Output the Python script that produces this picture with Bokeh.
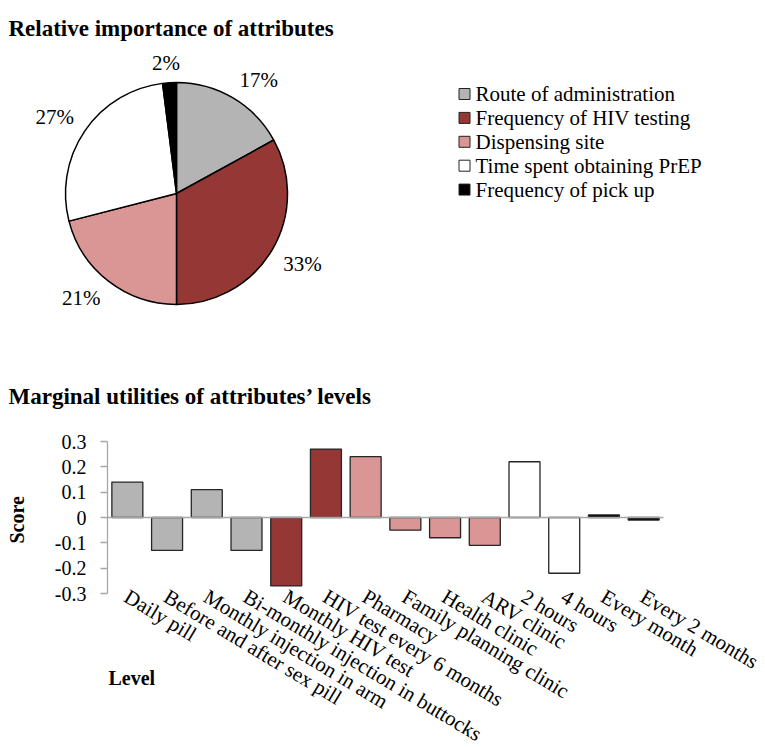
import math
from bokeh.plotting import figure
from bokeh.models import Range1d, FixedTicker, LinearAxis, Title
from bokeh.embed import file_html
from bokeh.resources import INLINE
from bokeh.core.properties import value

# ---------------- data ----------------
attributes = ["Route of administration", "Frequency of HIV testing", "Dispensing site",
              "Time spent obtaining PrEP", "Frequency of pick up"]
importance = [17, 33, 21, 27, 2]
importance_labels = ["17%", "33%", "21%", "27%", "2%"]
attr_colors = ["#B4B4B4", "#953735", "#D99694", "#FFFFFF", "#000000"]

levels = ["Daily pill", "Before and after sex pill", "Monthly injection in arm",
          "Bi-monthly injection in buttocks", "Monthly HIV test", "HIV test every 6 months",
          "Pharmacy", "Family planning clinic", "Health clinic", "ARV clinic",
          "2 hours", "4 hours", "Every month", "Every 2 months"]
level_attribute = [0, 0, 0, 0, 1, 1, 2, 2, 2, 2, 3, 3, 4, 4]
scores = [0.14, -0.13, 0.11, -0.13, -0.27, 0.27, 0.24, -0.05, -0.08, -0.11, 0.22, -0.22, 0.01, -0.01]
y_ticks = [-0.3, -0.2, -0.1, 0, 0.1, 0.2, 0.3]
y_tick_labels = ["-0.3", "-0.2", "-0.1", "0", "0.1", "0.2", "0.3"]

title_top = "Relative importance of attributes"
title_bottom = "Marginal utilities of attributes\u2019 levels"
x_title = "Level"
y_title = "Score"

SERIF = value("Liberation Serif")

# ---------------- top figure: pie + legend ----------------
W = 765
H1 = 410
p1 = figure(width=W, height=H1, x_range=Range1d(0, W), y_range=Range1d(0, H1),
            x_axis_type=None, y_axis_type=None, output_backend="svg",
            toolbar_location=None, min_border=0, outline_line_color=None)
p1.grid.visible = False

cx, cy, R = 176, H1 - 193, 111
total = float(sum(importance))
starts, ends, lab_x, lab_y = [], [], [], []
cum = 0.0
fs = 21.0
clamp = lambda t: max(-1.0, min(1.0, t))
for v, lab in zip(importance, importance_labels):
    starts.append(math.pi / 2 - 2 * math.pi * cum / total)
    mid = (cum + v / 2.0) / total
    cum += v
    ends.append(math.pi / 2 - 2 * math.pi * cum / total)
    th = 2 * math.pi * mid
    ux, uy = math.sin(th), math.cos(th)
    hw = 0.5 * fs * (0.5 * (len(lab) - 1) + 0.833)
    hh = 7.0
    k = R + 13
    lab_x.append(cx + k * ux + hw * clamp(3 * ux))
    lab_y.append(cy + k * uy + hh * clamp(3 * uy))

p1.wedge(x=cx, y=cy, radius=R, start_angle=starts, end_angle=ends, direction="clock",
         fill_color=attr_colors, line_color="black", line_width=1.5)
p1.text(x=lab_x, y=lab_y, text=importance_labels, text_font=SERIF, text_font_size="21px",
        text_align="center", text_baseline="middle", text_color="black")

# legend
leg_x, leg_top, leg_step = 464, H1 - 93.5, 23.9
leg_y = [leg_top - i * leg_step for i in range(len(attributes))]
p1.rect(x=[leg_x] * len(attributes), y=leg_y, width=11, height=11,
        fill_color=attr_colors, line_color="#222222", line_width=1)
p1.text(x=[leg_x + 11] * len(attributes), y=leg_y, text=attributes, text_font=SERIF,
        text_font_size="21px", text_align="left", text_baseline="middle", text_color="black")

# titles
p1.text(x=[8, 8], y=[H1 - 28, H1 - 396], text=[title_top, title_bottom], text_font=SERIF,
        text_font_style="bold", text_font_size="23px", text_align="left",
        text_baseline="alphabetic", text_color="black")

# ---------------- bottom figure: bar chart ----------------
n = len(levels)
idx = list(range(n))
bar_colors = [attr_colors[a] for a in level_attribute]

pitch = 556.0 / n            # pixels per category
ppu = 152.0 / 0.6            # pixels per score unit
frame_left = 107
frame_w, frame_h = 658, 306
x_lo = -0.5
y_hi = 0.3
y_lo = y_hi - frame_h / ppu

p2 = figure(width=None, height=None, frame_width=frame_w, frame_height=frame_h,
            x_range=Range1d(x_lo, x_lo + frame_w / pitch), y_range=Range1d(y_lo, y_hi),
            x_axis_location=None, output_backend="svg", toolbar_location=None,
            min_border_left=frame_left, min_border_right=0, min_border_top=31, min_border_bottom=0,
            outline_line_color=None)
p2.xgrid.visible = False
p2.ygrid.visible = False

p2.vbar(x=idx, top=scores, bottom=0, width=0.78, fill_color=bar_colors,
        line_color="#262626", line_width=1.3)

# horizontal axis line crossing at zero
zero_axis = LinearAxis(fixed_location=0, bounds=(-0.5, n - 0.5), ticker=FixedTicker(ticks=[]),
                       axis_line_color="#A6A6A6", axis_line_width=1.5,
                       major_tick_line_color=None, minor_tick_line_color=None,
                       major_label_text_font_size="0px")
p2.add_layout(zero_axis, "below")

ya = p2.yaxis[0]
ya.bounds = (-0.3, 0.3)
ya.ticker = FixedTicker(ticks=y_ticks)
ya.major_label_overrides = {t: l for t, l in zip(y_ticks, y_tick_labels)}
ya.axis_line_color = "#A6A6A6"
ya.axis_line_width = 1.3
ya.major_tick_line_color = "#A6A6A6"
ya.major_tick_line_width = 1.3
ya.major_tick_out = 7
ya.major_tick_in = 0
ya.minor_tick_line_color = None
ya.major_label_text_font = "Liberation Serif"
ya.major_label_text_font_size = "20px"
ya.major_label_text_color = "black"
ya.major_label_standoff = 14
# blank spacer label: keeps a gap between the tick labels and the "Score" title
ya.axis_label = " "
ya.axis_label_text_font_size = "1px"
ya.axis_label_standoff = 18

# value-axis title on the left side, centred on the -0.3..0.3 span
zero_from_bottom = frame_h - 0.3 * ppu
p2.add_layout(Title(text=y_title, align="left", offset=zero_from_bottom - 26, standoff=4,
                    text_font="Liberation Serif", text_font_style="bold",
                    text_font_size="20px", text_color="black"), "left")

# category labels, rotated, hanging below the bottom of the value axis
lab_y0 = -0.3 + 9.0 / ppu
p2.text(x=idx, y=[lab_y0] * n, text=levels, angle=-math.radians(31), x_offset=5,
        text_font=SERIF, text_font_size="21px", text_align="left", text_baseline="top",
        text_color="black")

# axis title for the categories
p2.text(x=[x_lo + 1.0 / pitch], y=[-0.3 - 84.0 / ppu], text=[x_title], text_font=SERIF,
        text_font_style="bold", text_font_size="20px", text_align="left",
        text_baseline="alphabetic", text_color="black")

open("out.html", "w").write(file_html([p1, p2], INLINE))
